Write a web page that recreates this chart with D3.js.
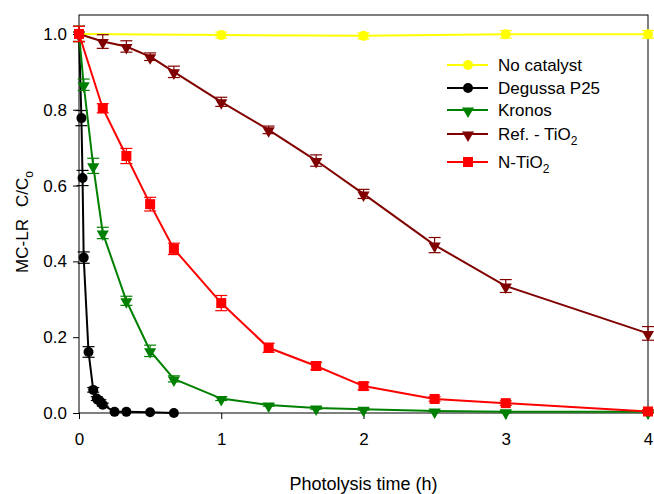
<!DOCTYPE html>
<html>
<head>
<meta charset="UTF-8">
<script src="https://cdn.jsdelivr.net/npm/d3@7"></script>
<style>
  body { margin: 0; background: #fff; }
  svg { font-family: "Liberation Sans", Arial, sans-serif; }
  .axis path, .axis line { stroke: #000; }
  .axis text { font-size: 17px; fill: #000; }
</style>
</head>
<body>
<svg width="654" height="494"></svg>
<script>
// time (h), C/Co and error for each catalyst
var tNone = [0, 1, 2, 3, 4];
var vNone = [1.0, 0.997, 0.995, 0.999, 0.999];
var eNone = [0.02, 0.008, 0.008, 0.01, 0.01];

var tP25 = [0, 0.017, 0.025, 0.033, 0.067, 0.1, 0.125, 0.15, 0.167, 0.25, 0.333, 0.5, 0.667];
var vP25 = [1.0, 0.778, 0.62, 0.41, 0.161, 0.061, 0.038, 0.03, 0.022, 0.003, 0.003, 0.002, 0.0];
var eP25 = [0.02, 0.02, 0.02, 0.015, 0.014, 0.006, 0.005, 0.005, 0.004, 0, 0, 0, 0];

var tKronos = [0, 0.033, 0.1, 0.167, 0.333, 0.5, 0.667, 1, 1.333, 1.667, 2, 2.5, 3, 4];
var vKronos = [1.0, 0.866, 0.652, 0.475, 0.296, 0.164, 0.09, 0.038, 0.021, 0.013, 0.01, 0.005, 0.003, 0.003];
var eKronos = [0.02, 0.015, 0.02, 0.015, 0.012, 0.015, 0.008, 0.005, 0.003, 0.003, 0.002, 0.002, 0.002, 0.002];

var tRef = [0, 0.167, 0.333, 0.5, 0.667, 1, 1.333, 1.667, 2, 2.5, 3, 4];
var vRef = [1.0, 0.98, 0.967, 0.94, 0.90, 0.821, 0.747, 0.666, 0.578, 0.443, 0.335, 0.21];
var eRef = [0.02, 0.018, 0.015, 0.01, 0.015, 0.012, 0.01, 0.015, 0.012, 0.02, 0.017, 0.018];

var tN = [0, 0.167, 0.333, 0.5, 0.667, 1, 1.333, 1.667, 2, 2.5, 3, 4];
var vN = [1.0, 0.804, 0.678, 0.551, 0.433, 0.29, 0.172, 0.124, 0.071, 0.037, 0.026, 0.004];
var eN = [0.02, 0.012, 0.02, 0.018, 0.015, 0.02, 0.012, 0.01, 0.01, 0.006, 0.006, 0.004];

var xTicks = [0, 1, 2, 3, 4];
var yTicks = [0, 0.2, 0.4, 0.6, 0.8, 1.0];

var series = [
  { name: "No catalyst", sub: "", t: tNone, v: vNone, e: eNone, color: "#ffff00", shape: "circle" },
  { name: "Degussa P25", sub: "", t: tP25, v: vP25, e: eP25, color: "#000000", shape: "circle" },
  { name: "Kronos", sub: "", t: tKronos, v: vKronos, e: eKronos, color: "#008000", shape: "tri" },
  { name: "Ref. - TiO", sub: "2", t: tRef, v: vRef, e: eRef, color: "#800000", shape: "tri" },
  { name: "N-TiO", sub: "2", t: tN, v: vN, e: eN, color: "#ff0000", shape: "square" }
];

var svg = d3.select("svg");
var plotL = 79, plotR = 648, plotT = 15, plotB = 413;

var x = d3.scaleLinear().domain([0, 4]).range([plotL, plotR]);
var y = d3.scaleLinear().domain([0, 1.05]).range([plotB, plotT]);

// frame
svg.append("rect")
  .attr("x", plotL).attr("y", plotT)
  .attr("width", plotR - plotL).attr("height", plotB - plotT)
  .attr("fill", "none").attr("stroke", "#000").attr("stroke-width", 1);

svg.append("g").attr("class", "axis")
  .attr("transform", "translate(0," + plotB + ")")
  .call(d3.axisBottom(x).tickValues(xTicks).tickSize(6).tickPadding(14).tickFormat(d3.format("d")))
  .call(function(g) { g.select(".domain").remove(); });

svg.append("g").attr("class", "axis")
  .attr("transform", "translate(" + plotL + ",0)")
  .call(d3.axisLeft(y).tickValues(yTicks).tickSize(6).tickPadding(6).tickFormat(d3.format(".1f")))
  .call(function(g) { g.select(".domain").remove(); });

var symTri = d3.symbol().type(d3.symbolTriangle).size(64);

function drawMarker(g, shape, color, cx, cy) {
  if (shape === "circle") {
    g.append("circle").attr("cx", cx).attr("cy", cy).attr("r", 5).attr("fill", color);
  } else if (shape === "square") {
    g.append("rect").attr("x", cx - 5).attr("y", cy - 5).attr("width", 10).attr("height", 10).attr("fill", color);
  } else {
    g.append("path").attr("d", symTri)
      .attr("transform", "translate(" + cx + "," + (cy + 1) + ") rotate(180)")
      .attr("fill", color);
  }
}

var line = d3.line().x(function(d) { return x(d[0]); }).y(function(d) { return y(d[1]); });

series.forEach(function(s) {
  var g = svg.append("g");
  var pts = s.t.map(function(t, i) { return [t, s.v[i], s.e[i]]; });

  // error bars
  pts.forEach(function(p) {
    if (p[2] <= 0) return;
    var px = x(p[0]), y1 = y(p[1] - p[2]), y2 = y(p[1] + p[2]);
    g.append("line").attr("x1", px).attr("x2", px).attr("y1", y1).attr("y2", y2)
      .attr("stroke", s.color).attr("stroke-width", 1.2);
    [y1, y2].forEach(function(yy) {
      g.append("line").attr("x1", px - 6).attr("x2", px + 6).attr("y1", yy).attr("y2", yy)
        .attr("stroke", s.color).attr("stroke-width", 1.2);
    });
  });

  g.append("path").datum(pts).attr("d", line)
    .attr("fill", "none").attr("stroke", s.color).attr("stroke-width", 2);

  pts.forEach(function(p) { drawMarker(g, s.shape, s.color, x(p[0]), y(p[1])); });
});

// legend
var legY = [65, 88, 110, 134, 162];
var leg = svg.append("g");
series.forEach(function(s, i) {
  var ly = legY[i];
  leg.append("line").attr("x1", 447).attr("x2", 488).attr("y1", ly).attr("y2", ly)
    .attr("stroke", s.color).attr("stroke-width", 2);
  drawMarker(leg, s.shape, s.color, 468, ly);
  var txt = leg.append("text").attr("x", 498).attr("y", ly + 6)
    .attr("font-size", 17).text(s.name);
  if (s.sub) {
    txt.append("tspan").attr("font-size", 12).attr("dy", 5).text(s.sub);
  }
});

// axis titles
svg.append("text").attr("x", (plotL + plotR) / 2).attr("y", 490)
  .attr("text-anchor", "middle").attr("font-size", 18).text("Photolysis time (h)");

var yt = svg.append("text").attr("transform", "translate(28,222) rotate(-90)")
  .attr("text-anchor", "middle").attr("font-size", 17);
yt.append("tspan").text("MC-LR");
yt.append("tspan").attr("dx", 12).text("C/C");
yt.append("tspan").attr("font-size", 12).attr("dy", 5).text("o");
</script>
</body>
</html>
